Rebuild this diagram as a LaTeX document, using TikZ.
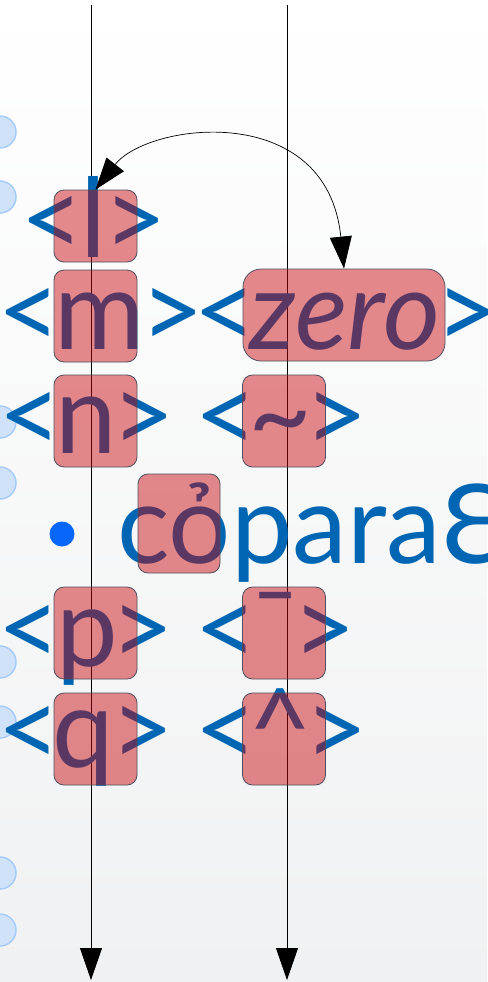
\documentclass[tikz,border=0pt]{standalone}
\usepackage{fontspec}
\setmainfont{Lato}
\usetikzlibrary{arrows.meta,positioning}
\definecolor{txtblue}{RGB}{0,102,179}
\definecolor{dotblue}{RGB}{8,102,250}
\definecolor{hlred}{RGB}{199,0,6}
\definecolor{hledge}{RGB}{80,80,96}
\definecolor{bubble}{RGB}{208,226,250}
\definecolor{bubbleedge}{RGB}{168,204,248}
\definecolor{bggray}{RGB}{240,241,242}

\begin{document}
\begin{tikzpicture}[x=1pt,y=-1pt,>={Triangle[length=32pt,width=22pt]},
  glyph/.style={anchor=base,inner sep=0pt,text=txtblue,font=\fontsize{110}{110}\selectfont},
  hl/.style={draw=hledge,line width=0.8pt,fill=hlred,fill opacity=0.46,rounded corners=10pt,inner sep=0pt,minimum width=83pt,minimum height=92pt}]
\path[use as bounding box] (0,0) rectangle (487,982);
\clip (0,0) rectangle (487,982);
\shade[top color=white,middle color=white,bottom color=bggray] (0,0) rectangle (487,982);
\foreach \y in {132,197,422,483,662,722,873,930}
  \draw[fill=bubble,draw=bubbleedge,line width=1.5pt] (0,\y) circle (16pt);
\coordinate (ltop) at (91,5);
\coordinate (lbot) at (91,980);
\coordinate (rtop) at (287,5);
\coordinate (rbot) at (287,980);
\draw[->,line width=0.8pt] (ltop) -- (lbot);
\draw[->,line width=0.8pt] (rtop) -- (rbot);
\foreach \g/\x [count=\i] in {</52.5,l/93,>/135.5}
  \node[glyph] (l\i) at (\x,257) {\g};
\foreach \g/\x [count=\i] in {</29.5,m/100,>/172,</225,\textit{zero}/345,>/467}
  \node[glyph] (m\i) at (\x,349) {\g};
\foreach \g/\x [count=\i] in {</30,n/86,>/143,</226,\textasciitilde/280,>/336}
  \node[glyph] (n\i) at (\x,453) {\g};
\node[circle,fill=dotblue,minimum size=25pt,inner sep=0pt] (dot) at (62,534) {};
\node[glyph,anchor=base west] (c) at (117,563) {cỏparaƐu};
\foreach \g/\x [count=\i] in {</29,p/87,>/142.5,</226,¯/275.5,>/324}
  \node[glyph] (p\i) at (\x,666) {\g};
\foreach \g/\x [count=\i] in {</29,q/83.5,>/142.5,</226,\textasciicircum/280.5,>/336}
  \node[glyph] (q\i) at (\x,767) {\g};
\node[hl,minimum height=72pt] (lb) at (95.5,226) {};
\node[hl,minimum width=202pt,rounded corners=18pt] (zb) at (344,315) {};
\node[hl,minimum width=82pt,minimum height=99pt] (ob) at (179,523.5) {};
\foreach \nm/\x/\y in {mb/95.5/316,nb/95.5/421,tb/284/421,pb/95.5/633,bb/284/633,qb/95.5/739,cb/284/739}
  \node[hl] (\nm) at (\x,\y) {};
\draw[<->,line width=0.7pt] (lb.north) .. controls +(52.4,-67) and +(-17,-169.2) .. (zb.north);
\end{tikzpicture}
\end{document}
